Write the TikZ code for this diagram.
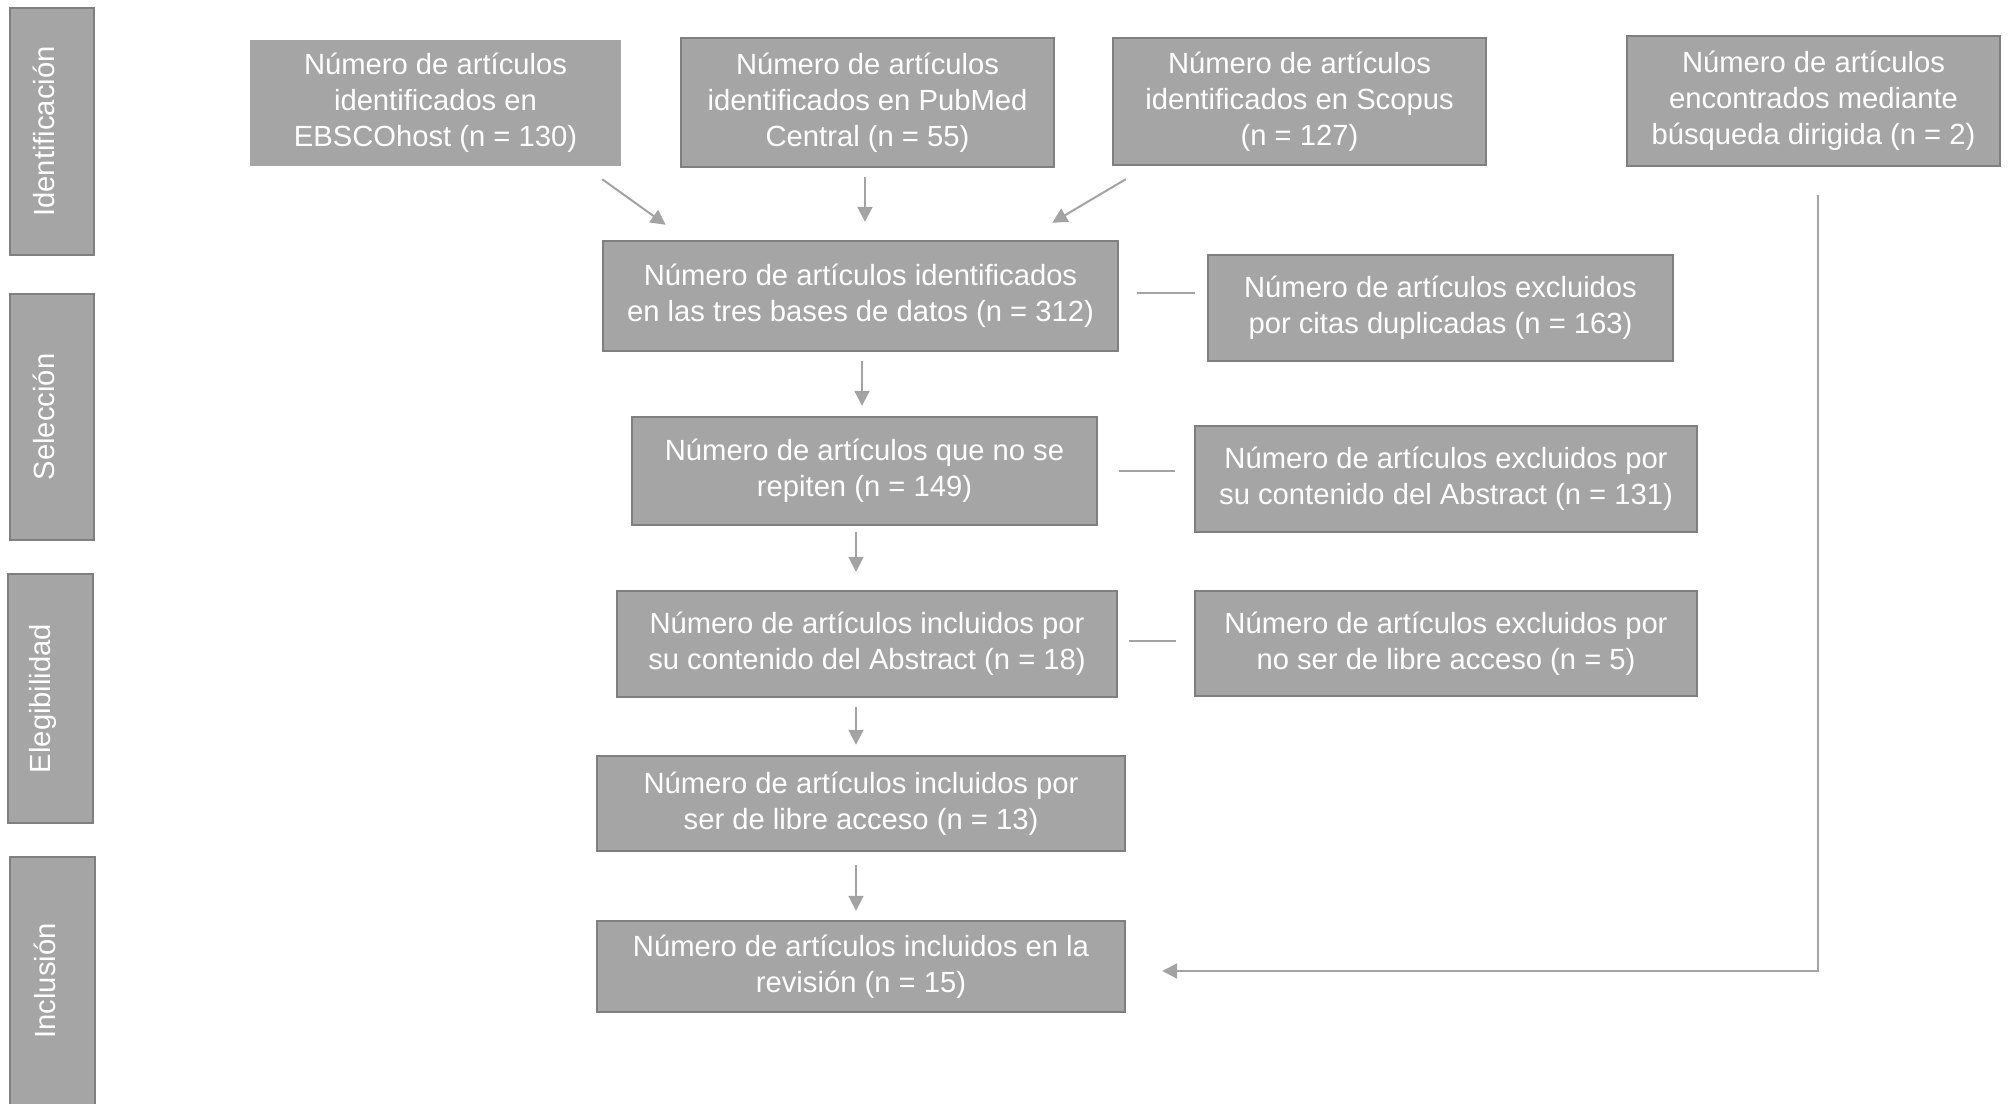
\documentclass[tikz,border=0pt]{standalone}
\usepackage{fontspec}
\setmainfont{Liberation Sans}
\usetikzlibrary{arrows.meta,calc}
\definecolor{boxfill}{HTML}{A5A5A5}
\definecolor{boxline}{HTML}{7F7F7F}
\definecolor{conn}{HTML}{A3A3A3}
\tikzset{
  box/.style={draw=boxline, line width=1.2pt, fill=boxfill, text=white, inner sep=0pt, align=center,
    font=\fontsize{14.6}{18}\selectfont},
  phase/.style={draw=boxline, line width=1.2pt, fill=boxfill, inner sep=0pt},
  phasetext/.style={text=white, inner sep=0pt, rotate=90, font=\fontsize{14.6}{18}\selectfont},
  arr/.style={draw=conn, line width=1pt, -{Triangle[length=7.5pt,width=7.5pt]}},
  lnk/.style={draw=conn, line width=1pt}
}
\begin{document}
\begin{tikzpicture}[x=0.5pt,y=-0.5pt]
\useasboundingbox (0,0) rectangle (2010,1104);
% phase boxes
\node[phase, minimum height=247*0.5pt, minimum width=84*0.5pt] (ident) at (52,131.5) {};
\node[phase, minimum height=246*0.5pt, minimum width=84*0.5pt] (sel) at (52,417) {};
\node[phase, minimum height=249*0.5pt, minimum width=85*0.5pt] (eleg) at (50.5,698.5) {};
\node[phase, minimum height=248*0.5pt, minimum width=85*0.5pt] (incl) at (52.5,981) {};
\node[phasetext] (identt) at ($(ident.center)+(-8,0)$) {Identificación};
\node[phasetext] (selt) at ($(sel.center)+(-8,0)$) {Selección};
\node[phasetext] (elegt) at ($(eleg.center)+(-8,0)$) {Elegibilidad};
\node[phasetext] (inclt) at ($(incl.center)+(-8,0)$) {Inclusión};
% top row
\node[box, draw=boxfill, minimum width=369*0.5pt, minimum height=124*0.5pt] (ebsco) at (435.5,103) {Número de artículos\\identificados en\\EBSCOhost (n = 130)};
\node[box, minimum width=373*0.5pt, minimum height=129*0.5pt] (pubmed) at (867.5,102.5) {Número de artículos\\identificados en PubMed\\Central (n = 55)};
\node[box, minimum width=373*0.5pt, minimum height=127*0.5pt] (scopus) at (1299.5,101.5) {Número de artículos\\identificados en Scopus\\(n = 127)};
\node[box, minimum width=373*0.5pt, minimum height=130*0.5pt] (busq) at (1813.5,101) {Número de artículos\\encontrados mediante\\búsqueda dirigida (n = 2)};
% main column
\node[box, minimum width=515*0.5pt, minimum height=110*0.5pt] (tres) at (860.5,296) {Número de artículos identificados\\en las tres bases de datos (n = 312)};
\node[box, minimum width=465*0.5pt, minimum height=106*0.5pt] (dup) at (1440.5,308) {Número de artículos excluidos\\por citas duplicadas (n = 163)};
\node[box, minimum width=465*0.5pt, minimum height=108*0.5pt] (rep) at (864.5,471) {Número de artículos que no se\\repiten (n = 149)};
\node[box, minimum width=502*0.5pt, minimum height=106*0.5pt] (abs) at (1446,479) {Número de artículos excluidos por\\su contenido del Abstract (n = 131)};
\node[box, minimum width=500*0.5pt, minimum height=106*0.5pt] (inc18) at (867,644) {Número de artículos incluidos por\\su contenido del Abstract (n = 18)};
\node[box, minimum width=502*0.5pt, minimum height=105*0.5pt] (lib5) at (1446,643.5) {Número de artículos excluidos por\\no ser de libre acceso (n = 5)};
\node[box, minimum width=528*0.5pt, minimum height=95*0.5pt] (inc13) at (861,803.5) {Número de artículos incluidos por\\ser de libre acceso (n = 13)};
\node[box, minimum width=528*0.5pt, minimum height=91*0.5pt] (rev) at (861,966.5) {Número de artículos incluidos en la\\revisión (n = 15)};
% connectors
\draw[arr] ($(ebsco.south east)+(-19,13)$) -- ($(tres.north west)+(64,-15)$);
\draw[arr] ($(pubmed.south)+(-2.5,9)$) -- ($(tres.north)+(4.5,-18)$);
\draw[arr] ($(scopus.south west)+(14,13)$) -- ($(tres.north east)+(-67,-17)$);
\draw[arr] ($(tres.south)+(1.5,9)$) -- ($(rep.north)+(-2.5,-10)$);
\draw[arr] ($(rep.south)+(-8.5,6)$) -- ($(inc18.north)+(-11,-18)$);
\draw[arr] ($(inc18.south)+(-11,9)$) -- ($(inc13.north)+(-5,-10)$);
\draw[arr] ($(inc13.south)+(-5,13)$) -- ($(rev.north)+(-5,-9)$);
\draw[arr] ($(busq.south)+(4.5,28)$) |- ($(rev.east)+(36,4.5)$);
\draw[lnk] ($(tres.east)+(18,-3)$) -- ($(dup.west)+(-12,-15)$);
\draw[lnk] ($(rep.east)+(21,0)$) -- ($(abs.west)+(-19,-8)$);
\draw[lnk] ($(inc18.east)+(11,-3)$) -- ($(lib5.west)+(-18,-2.5)$);
\end{tikzpicture}
\end{document}
